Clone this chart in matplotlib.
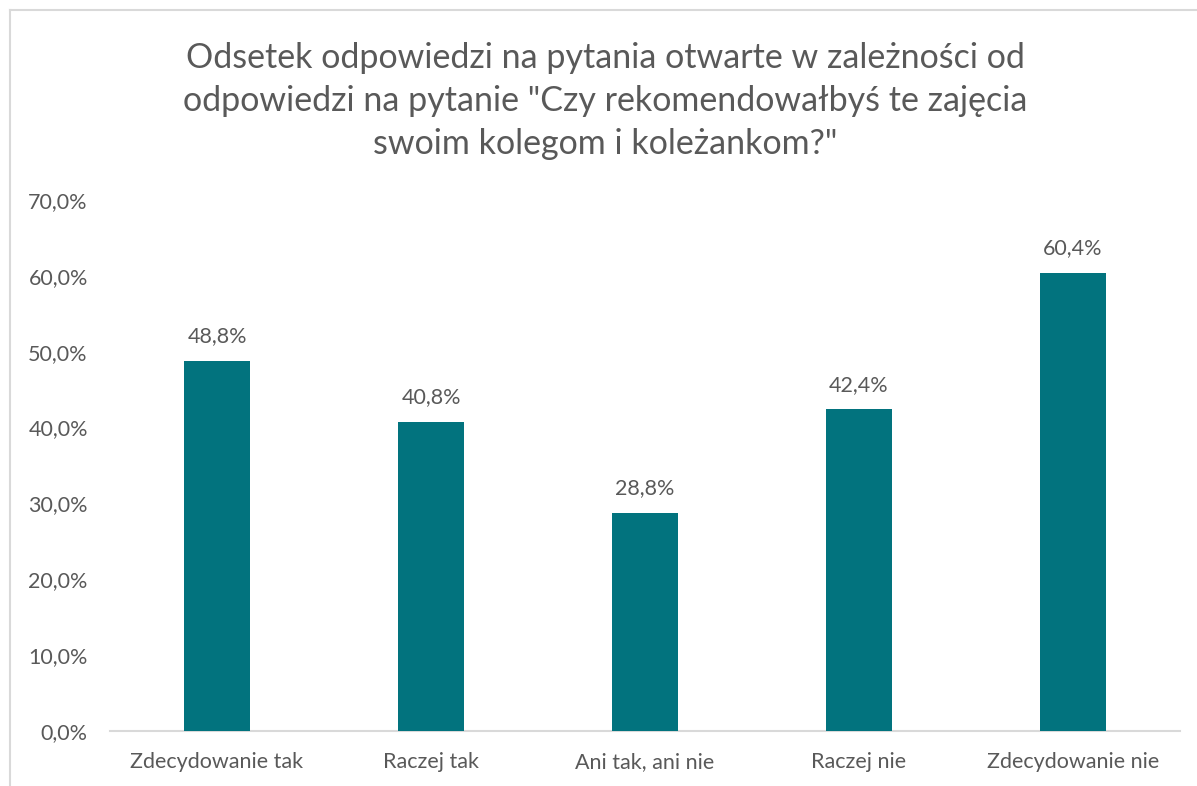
import matplotlib.pyplot as plt
from matplotlib.lines import Line2D
from matplotlib.ticker import FuncFormatter

categories = ["Zdecydowanie tak", "Raczej tak", "Ani tak, ani nie", "Raczej nie", "Zdecydowanie nie"]
values = [48.8, 40.8, 28.8, 42.4, 60.4]
yticks = [0, 10, 20, 30, 40, 50, 60, 70]
title = ('Odsetek odpowiedzi na pytania otwarte w zależności od\n'
         'odpowiedzi na pytanie "Czy rekomendowałbyś te zajęcia\n'
         'swoim kolegom i koleżankom?"')

BAR = "#02737E"
TXT = "#595959"
plt.rcParams['font.family'] = ['Lato', 'DejaVu Sans']

W, H = 1197, 786
fig = plt.figure(figsize=(W / 100, H / 100), dpi=100)
ax = fig.add_axes([110 / W, 1 - 731 / H, 1070 / W, 531 / H])

x = range(len(categories))
ax.bar(x, values, width=0.31, color=BAR, zorder=3)
for xi, v in zip(x, values):
    ax.text(xi, v + 1.9, f"{v:.1f}%".replace(".", ","), ha="center", va="bottom",
            fontsize=15.5, color=TXT)

ax.set_xlim(-0.5, len(categories) - 0.5)
ax.set_ylim(0, 70)
ax.set_yticks(yticks)
ax.yaxis.set_major_formatter(FuncFormatter(lambda v, p: f"{v:.1f}%".replace(".", ",")))
ax.set_xticks(list(x))
ax.set_xticklabels(categories)
ax.tick_params(axis="both", length=0, labelsize=15.5, labelcolor=TXT)
ax.tick_params(axis="y", pad=16)
ax.tick_params(axis="x", pad=15)
for s in ["top", "right", "left"]:
    ax.spines[s].set_visible(False)
ax.spines["bottom"].set_color("#D9D9D9")
ax.spines["bottom"].set_linewidth(1.5)

fig.text(605 / W, 1 - 42 / H, title, ha="center", va="top", fontsize=24.5,
         color=TXT, linespacing=1.42)

# chart frame (top and left edges visible)
fig.add_artist(Line2D([10 / W, 1], [1 - 10 / H, 1 - 10 / H], color="#D9D9D9", lw=1.5))
fig.add_artist(Line2D([10 / W, 10 / W], [0, 1 - 10 / H], color="#D9D9D9", lw=1.5))

fig.savefig("out.png", dpi=100)
